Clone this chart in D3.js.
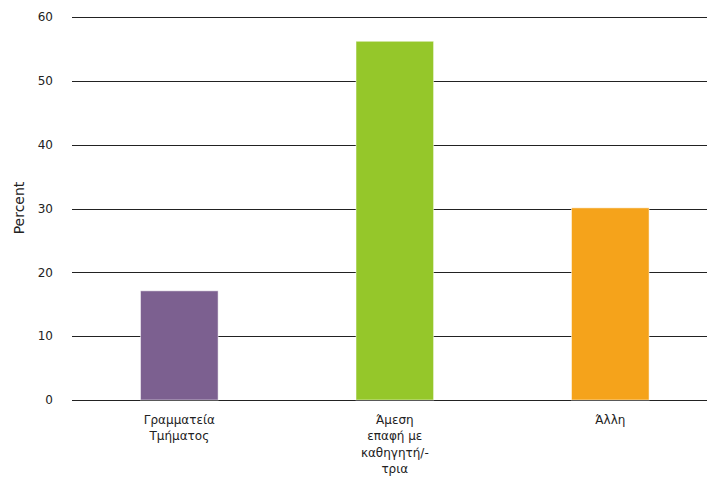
<!DOCTYPE html>
<html><head><meta charset="utf-8">
<script src="https://cdn.jsdelivr.net/npm/d3@7"></script>
<style>body{margin:0;background:#fff}svg{display:block}text{font-family:"DejaVu Sans",Verdana,sans-serif;fill:#222}</style>
</head><body>
<svg id="c" width="707" height="477"></svg>
<script>
const categories = [["Γραμματεία","Τμήματος"],["Άμεση","επαφή με","καθηγητή/-","τρια"],["Άλλη"]];
const values = [17.1, 56.2, 30.1];
const colors = ["#7c6090","#95c72a","#f5a31b"];
const yTicks = [0,10,20,30,40,50,60];
const yLabel = "Percent";

const svg = d3.select("#c");
const x = d3.scaleBand().domain(d3.range(categories.length)).range([72, 717.6]).paddingInner(0.64).paddingOuter(0.318);
const y = d3.scaleLinear().domain([0,60]).range([400,17]);

// gridlines
svg.append("g").selectAll("line").data(yTicks).join("line")
  .attr("x1",72).attr("x2",707)
  .attr("y1",d=>Math.round(y(d))+0.5).attr("y2",d=>Math.round(y(d))+0.5)
  .attr("stroke","#222").attr("stroke-width",1.2);

// y tick labels
svg.append("g").selectAll("text").data(yTicks).join("text")
  .attr("x",53).attr("y",d=>y(d)).attr("dy","0.35em")
  .attr("text-anchor","end").style("font-size","12px").text(d=>d);

svg.append("text").attr("transform","translate(24,208) rotate(-90)")
  .attr("text-anchor","middle").style("font-size","14px").text(yLabel);

// bars
svg.append("g").selectAll("rect").data(values).join("rect")
  .attr("x",(d,i)=>x(i)).attr("width",x.bandwidth())
  .attr("y",d=>y(d)).attr("height",d=>y(0)-y(d))
  .attr("fill",(d,i)=>colors[i])
  .attr("stroke","rgba(255,255,255,0.5)").attr("stroke-width",1);

// x labels
const xl = svg.append("g").selectAll("text").data(categories).join("text")
  .attr("text-anchor","middle").style("font-size","12px")
  .attr("transform",(d,i)=>`translate(${x(i)+x.bandwidth()/2},424)`);
xl.selectAll("tspan").data(d=>d).join("tspan")
  .attr("x",0).attr("dy",(d,j)=>j===0?0:"1.36em").text(d=>d);
</script>
</body></html>
